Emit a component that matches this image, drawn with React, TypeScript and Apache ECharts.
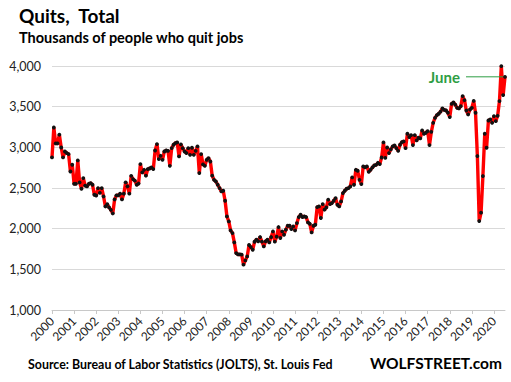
import React, { useEffect, useRef } from "react";
import * as echarts from "echarts";

// Monthly quits, thousands (Dec 2000 .. Jun 2021)
const q2000 = [2876];
const q2001 = [3244, 3048, 3048, 3155, 2998, 2876, 2949, 2930, 2917, 2703, 2786, 2552];
const q2002 = [2552, 2839, 2568, 2491, 2622, 2530, 2519, 2552, 2560, 2540, 2417, 2408];
const q2003 = [2499, 2440, 2499, 2396, 2273, 2300, 2261, 2230, 2187, 2359, 2410, 2410];
const q2004 = [2430, 2360, 2430, 2570, 2520, 2430, 2650, 2610, 2590, 2540, 2555, 2794];
const q2005 = [2691, 2724, 2651, 2733, 2740, 2753, 2733, 2961, 3040, 2856, 2896, 2847];
const q2006 = [2949, 2961, 2957, 2773, 2991, 3032, 3052, 3060, 2888, 3036, 2990, 2949];
const q2007 = [2930, 2990, 2908, 2995, 2908, 2957, 3011, 2684, 2917, 2790, 2773, 2847];
const q2008 = [2868, 2826, 2651, 2601, 2580, 2540, 2499, 2458, 2466, 2343, 2150, 2089];
const q2009 = [1978, 1946, 1831, 1700, 1683, 1683, 1680, 1557, 1610, 1659, 1799, 1774];
const q2010 = [1741, 1839, 1864, 1845, 1897, 1840, 1782, 1845, 1864, 1831, 1897, 1966];
const q2011 = [1840, 1901, 2020, 1885, 1966, 1925, 1987, 2036, 2036, 1995, 2028, 1978];
const q2012 = [2069, 2143, 2171, 2143, 2150, 2143, 2077, 2060, 1954, 2036, 2048, 2265];
const q2013 = [2274, 2131, 2302, 2233, 2261, 2356, 2302, 2315, 2343, 2376, 2294, 2274];
const q2014 = [2335, 2438, 2466, 2491, 2499, 2519, 2630, 2540, 2724, 2712, 2601, 2548];
const q2015 = [2765, 2753, 2765, 2699, 2724, 2753, 2777, 2785, 2810, 2794, 2875, 3060];
const q2016 = [2870, 2998, 2930, 2974, 3011, 3023, 2990, 2957, 3032, 3064, 3073, 2990];
const q2017 = [3167, 3126, 3150, 3028, 3150, 3085, 3118, 3110, 3207, 3167, 3179, 3200];
const q2018 = [3028, 3191, 3302, 3363, 3396, 3413, 3440, 3478, 3460, 3453, 3425, 3372];
const q2019 = [3535, 3553, 3525, 3486, 3478, 3506, 3630, 3580, 3453, 3404, 3465, 3486];
const q2020 = [3570, 3425, 2893, 2094, 2196, 2647, 3167, 2995, 3330, 3343, 3302, 3384];
const q2021 = [3322, 3388, 3569, 3999, 3642, 3867];

const quits = [
  ...q2000, ...q2001, ...q2002, ...q2003, ...q2004, ...q2005, ...q2006,
  ...q2007, ...q2008, ...q2009, ...q2010, ...q2011, ...q2012, ...q2013,
  ...q2014, ...q2015, ...q2016, ...q2017, ...q2018, ...q2019, ...q2020, ...q2021,
];

// Month categories, first one is Dec 2000
const months: string[] = quits.map((_, i) => {
  const y = 2000 + Math.floor((i + 11) / 12);
  const m = ((i + 11) % 12) + 1;
  return `${y}-${m < 10 ? "0" + m : m}`;
});

const yTicks = { min: 1000, max: 4000, interval: 500 };

const titleText = "Quits,  Total";
const subtitleText = "Thousands of people who quit jobs";
const sourceText = "Source: Bureau of Labor Statistics (JOLTS), St. Louis Fed";
const brandText = "WOLFSTREET.com";
const annotationText = "June";

const FONT = "Lato, 'Open Sans', sans-serif";

const baseGraphics = () => [
  { type: "text", left: 19, top: 6, style: { text: titleText, font: `bold 19px ${FONT}`, fill: "#000" } },
  { type: "text", left: 19, top: 30, style: { text: subtitleText, font: `bold 14.5px ${FONT}`, fill: "#000" } },
  { type: "text", left: 28, top: 358, style: { text: sourceText, font: `bold 12.4px ${FONT}`, fill: "#000" } },
  { type: "text", right: 9, top: 355, style: { text: brandText, font: `bold 15.5px ${FONT}`, fill: "#000" } },
];

export default function App() {
  const ref = useRef<HTMLDivElement>(null);
  useEffect(() => {
    if (!ref.current) return;
    const chart = echarts.init(ref.current, undefined, { renderer: "svg" });
    chart.setOption({
      animation: false,
      backgroundColor: "#ffffff",
      grid: { left: 52, right: 6, top: 66, bottom: 72, containLabel: false },
      xAxis: {
        type: "category",
        data: months,
        boundaryGap: false,
        axisLine: { show: true, lineStyle: { color: "#c8c8c8", width: 1 } },
        axisTick: { show: true, interval: 11, length: 4, lineStyle: { color: "#c8c8c8" } },
        axisLabel: {
          interval: 11,
          rotate: 45,
          margin: 9,
          fontSize: 12,
          color: "#222",
          fontFamily: FONT,
          formatter: (v: string) => v.slice(0, 4),
        },
        splitLine: { show: false },
      },
      yAxis: {
        type: "value",
        min: yTicks.min,
        max: yTicks.max,
        interval: yTicks.interval,
        axisLine: { show: false },
        axisTick: { show: false },
        axisLabel: {
          margin: 11,
          fontSize: 12.5,
          color: "#222",
          fontFamily: FONT,
          formatter: (v: number) => v.toLocaleString("en-US"),
        },
        splitLine: { lineStyle: { color: "#d9d9d9", width: 1 } },
      },
      series: [
        {
          type: "line",
          data: quits,
          symbol: "circle",
          symbolSize: 3.8,
          showSymbol: true,
          showAllSymbol: true,
          lineStyle: { color: "#ff0000", width: 3.4 },
          itemStyle: { color: "#111111", borderWidth: 0 },
          z: 3,
        },
      ],
      graphic: baseGraphics(),
    });

    const last = quits.length - 1;
    const p = chart.convertToPixel({ seriesIndex: 0 }, [last, quits[last]]) as number[];
    if (p && p.length === 2) {
      chart.setOption({
        graphic: [
          ...baseGraphics(),
          {
            type: "line",
            shape: { x1: p[0] - 39, y1: p[1], x2: p[0] - 2, y2: p[1] },
            style: { stroke: "#2e9e44", lineWidth: 1 },
            z: 10,
          },
          {
            type: "text",
            x: p[0] - 45,
            y: p[1],
            style: {
              text: annotationText,
              font: `bold 15px ${FONT}`,
              fill: "#2e9e44",
              textAlign: "right",
              textVerticalAlign: "middle",
            },
            z: 10,
          },
        ],
      }, { replaceMerge: ["graphic"] });
    }

    return () => chart.dispose();
  }, []);
  return <div ref={ref} style={{ width: 511, height: 382, position: "absolute", left: 0, top: 0 }} />;
}
